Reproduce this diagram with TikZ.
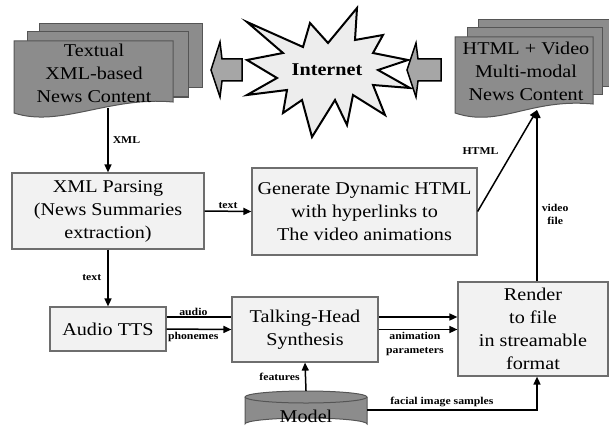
\documentclass[tikz,border=0pt]{standalone}
\usepackage{fontspec}
\setmainfont{Liberation Serif}[FakeStretch=1.12]
\usetikzlibrary{arrows.meta,backgrounds}

\definecolor{boxfill}{HTML}{F2F2F2}
\definecolor{boxline}{HTML}{6E6E6E}
\definecolor{docfill}{HTML}{8C8C8C}
\definecolor{docline}{HTML}{555555}
\definecolor{starfill}{HTML}{EDEDED}
\definecolor{fatfill}{HTML}{A6A6A6}

\tikzset{
  box/.style={draw=boxline, fill=boxfill, line width=1.2pt, align=center,
              inner sep=0pt, font=\fontsize{18}{23}\selectfont},
  doctext/.style={align=center, inner sep=0pt, font=\fontsize{18}{23}\selectfont},
  lbl/.style={font=\bfseries\fontsize{10.5}{13.5}\selectfont, inner sep=1pt, align=center},
  conn/.style={line width=1.5pt, -{Triangle[length=8pt,width=7pt]}},
  docpage/.style={fill=docfill, draw=docline, line width=1pt},
  fatarrow/.style={fill=fatfill, draw=black, line width=1.5pt, line join=miter},
}

\begin{document}
\begin{tikzpicture}[x=1pt,y=-1pt]
\useasboundingbox (0,0) rectangle (609,433);

% ---- source document stack (left) ----
\draw[docpage] (39,24) rectangle (202,88);
\draw[docpage] (27,32) rectangle (188,97);
\draw[docpage] (14,41) -- (173,41) -- (173,102)
   .. controls (110,96) and (60,128) .. (14,113) -- cycle;
\node[doctext] (srcdoc) at (94,73) {Textual\\XML-based\\News Content};
\coordinate (srcout) at (108,108);

% ---- output document stack (right) ----
\draw[docpage] (478,20) rectangle (609,87);
\draw[docpage] (467,28) rectangle (602,95);
\draw[docpage] (455,37) -- (593,37) -- (593,104)
   .. controls (530,98) and (500,128) .. (455,113) -- cycle;
\node[doctext] (outdoc) at (526,71) {HTML + Video\\Multi-modal\\News Content};
\coordinate (outin) at (537,110);

% ---- Internet burst ----
\draw[fill=starfill, draw=black, line width=2pt, line join=miter]
  (247,22) -- (303,47) -- (310,23) -- (328,43) -- (357,8) -- (355,40)
  -- (383,35) -- (373,53) -- (408,60) -- (378,70) -- (410,88) -- (373,85)
  -- (385,115) -- (353,95) -- (347,125) -- (335,100) -- (312,137)
  -- (302,100) -- (283,113) -- (287,90) -- (247,95) -- (277,78)
  -- (247,60) -- (283,53) -- cycle;
\node[font=\bfseries\fontsize{18}{22}\selectfont, inner sep=0pt] (inet) at (327,70) {Internet};

% ---- block arrows from the Internet ----
\draw[fatarrow] (211,70) -- (220,42) -- (222,59) -- (242,59) -- (242,81)
  -- (222,81) -- (220,97) -- cycle;
\draw[fatarrow] (407,70) -- (416,43) -- (418,59) -- (441,59) -- (441,81)
  -- (418,81) -- (416,97) -- cycle;

% ---- processing blocks ----
\node[box, minimum width=192pt, minimum height=76pt] (xmlp) at (108,211)
  {XML Parsing\\(News Summaries\\extraction)};
\node[box, minimum width=225pt, minimum height=87pt] (gen) at (364.5,211.5)
  {Generate Dynamic HTML\\with hyperlinks to\\The video animations};
\node[box, minimum width=116pt, minimum height=44pt] (tts) at (108,329)
  {Audio TTS};
\node[box, minimum width=146pt, minimum height=65pt] (th) at (305,329.5)
  {Talking-Head\\Synthesis};
\node[box, minimum width=150pt, minimum height=94pt] (render) at (533,329)
  {Render\\to file\\in streamable\\format};

% ---- model database ----
\draw[docpage] (245,397) -- (245,424) arc[start angle=180, end angle=360,
  x radius=61, y radius=6] -- (367,397);
\draw[docpage] (306,397) ellipse[x radius=61, y radius=6];
\node[inner sep=0pt, minimum width=122pt, minimum height=50pt,
      font=\fontsize{18}{23}\selectfont] (model) at (306,416) {Model};

% ---- connectors ----
\draw[conn] (srcout) -- node[lbl, right=3pt] {XML} (xmlp.north);
\draw[conn] (xmlp.east) -- node[lbl, above=1pt] {text} (gen.west);
\draw[conn] (xmlp.south) -- node[lbl, left=5pt, pos=0.5] {text} (tts.north);
\draw[conn] (gen.east) -- node[lbl, pos=0.6, left=13pt] {HTML} (outin);
\draw[conn] (render.north -| outin) -- node[lbl, pos=0.39, right=3pt] {video\\file} (outin);
\begin{scope}[on background layer]
  \draw[conn] ([yshift=12pt]tts.east) -- node[lbl, pos=0.092, above=0pt] {audio}
    ([yshift=12pt]tts.east -| render.west);
\end{scope}
\draw[conn] (tts.east) -- node[lbl, pos=0.41, below=1pt] {phonemes} (th.west);
\draw[conn] (th.east) -- node[lbl, pos=0.46, below=1pt] {animation\\parameters} (th.east -| render.west);
\draw[conn] (model.north) -- node[lbl, left=4pt] {features} (th.south);
\draw[conn] ([yshift=6pt]model.east) -| node[lbl, pos=0.22, above=1pt] {facial image samples} (render.south -| outin);

\end{tikzpicture}
\end{document}
